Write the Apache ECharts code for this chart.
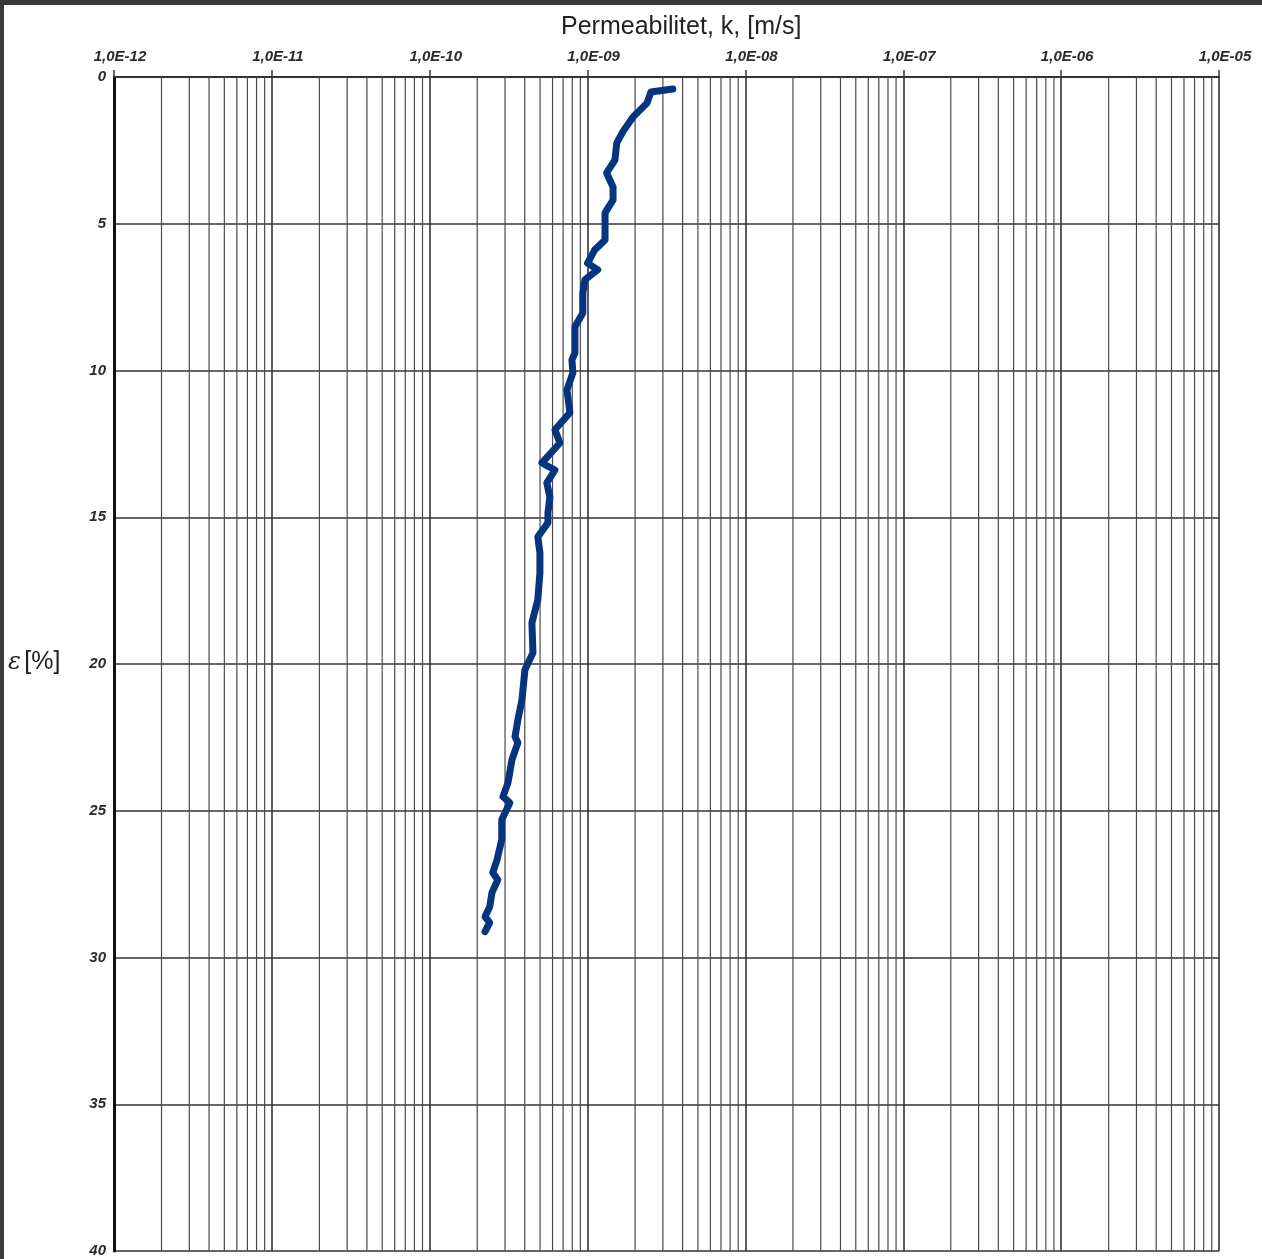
<!DOCTYPE html>
<html>
<head>
<meta charset="utf-8">
<title>Permeabilitet</title>
<script src="https://cdn.jsdelivr.net/npm/echarts@6/dist/echarts.min.js"></script>
<style>
  html, body { margin: 0; padding: 0; background: #fff; }
  #main { width: 1262px; height: 1259px; }
</style>
</head>
<body>
<div id="main"></div>
<script>
// permeabilitet k [m/s] mot töjning eps [%], avläst ur kurvan
const kValues = [3.47e-9, 2.52e-9, 2.38e-9, 1.94e-9, 1.67e-9, 1.53e-9, 1.49e-9, 1.32e-9, 1.45e-9, 1.45e-9,
  1.29e-9, 1.29e-9, 1.11e-9, 1.00e-9, 1.16e-9, 9.62e-10, 9.33e-10, 9.33e-10, 8.32e-10, 8.32e-10,
  7.96e-10, 8.07e-10, 7.40e-10, 7.73e-10, 6.21e-10, 6.68e-10, 5.14e-10, 6.21e-10, 5.52e-10, 5.77e-10,
  5.61e-10, 5.61e-10, 4.84e-10, 4.99e-10, 4.99e-10, 4.84e-10, 4.44e-10, 4.51e-10, 4.01e-10, 3.84e-10,
  3.62e-10, 3.47e-10, 3.62e-10, 3.32e-10, 3.13e-10, 2.91e-10, 3.22e-10, 2.86e-10, 2.86e-10, 2.67e-10,
  2.51e-10, 2.70e-10, 2.48e-10, 2.40e-10, 2.24e-10, 2.40e-10, 2.24e-10]
const epsValues = [0.41, 0.51, 0.89, 1.36, 1.87, 2.25, 2.83, 3.27, 3.75, 4.19,
  4.63, 5.55, 5.89, 6.34, 6.57, 6.91, 7.36, 8.04, 8.51, 9.40,
  9.64, 10.08, 10.66, 11.44, 12.02, 12.47, 13.15, 13.39, 13.83, 14.31,
  14.85, 15.19, 15.67, 16.21, 16.89, 17.81, 18.60, 19.62, 20.20, 21.22,
  21.90, 22.48, 22.68, 23.26, 24.05, 24.52, 24.73, 25.31, 25.99, 26.67,
  27.11, 27.35, 27.79, 28.27, 28.61, 28.81, 29.12]

const xTickLabels = ['1,0E-12', '1,0E-11', '1,0E-10', '1,0E-09', '1,0E-08', '1,0E-07', '1,0E-06', '1,0E-05']
const decades = [1e-12, 1e-11, 1e-10, 1e-9, 1e-8, 1e-7, 1e-6]
const minorSteps = [2, 3, 4, 5, 6, 7, 8, 9]

const lineData = kValues.map((k, i) => [k, epsValues[i]])

// logpapperets fina linjer 2..9 i varje dekad
const minorLines = []
decades.forEach((d) => {
  minorSteps.forEach((m) => {
    minorLines.push([d * m, 0])
  })
})

const myChart = echarts.init(document.getElementById('main'))
const labelFont = 'Liberation Sans, Arial, sans-serif'

const option = {
  backgroundColor: '#fff',
  animation: false,
  title: {
    text: 'Permeabilitet, k, [m/s]',
    left: 556,
    top: 10,
    textStyle: { fontFamily: labelFont, fontSize: 25, fontWeight: 'normal', color: '#222' }
  },
  graphic: [
    { type: 'rect', left: 0, top: 0, shape: { width: 1262, height: 5 }, style: { fill: '#3a3a3a' } },
    { type: 'rect', left: 0, top: 0, shape: { width: 4, height: 1259 }, style: { fill: '#3a3a3a' } },
    {
      type: 'text',
      left: 8,
      top: 650,
      style: {
        text: '{e|ε} {b|[%]}',
        rich: {
          e: { fontFamily: 'DejaVu Serif, serif', fontStyle: 'italic', fontSize: 24, fill: '#222' },
          b: { fontFamily: labelFont, fontSize: 25, fill: '#222' }
        }
      }
    }
  ],
  grid: { left: 114, right: 43, top: 77, bottom: 8 },
  xAxis: {
    type: 'log',
    logBase: 10,
    min: 1e-12,
    max: 1e-5,
    position: 'top',
    axisLine: { show: true, lineStyle: { color: '#333', width: 2 } },
    axisTick: { show: true, length: 7, lineStyle: { color: '#333', width: 1.5 } },
    axisLabel: {
      margin: 13,
      padding: [0, 0, 0, 12],
      fontFamily: labelFont,
      fontStyle: 'italic',
      fontWeight: 'bold',
      fontSize: 15,
      color: '#2a2a2a',
      formatter: function (value, index) {
        return xTickLabels[index]
      }
    },
    splitLine: { show: true, lineStyle: { color: '#333', width: 1.6 } }
  },
  yAxis: {
    type: 'value',
    inverse: true,
    min: 0,
    max: 40,
    interval: 5,
    axisLine: { show: true, lineStyle: { color: '#111', width: 3 } },
    axisTick: { show: false },
    axisLabel: {
      margin: 8,
      fontFamily: labelFont,
      fontStyle: 'italic',
      fontWeight: 'bold',
      fontSize: 15,
      color: '#2a2a2a'
    },
    splitLine: { show: true, lineStyle: { color: '#333', width: 1.5 } }
  },
  series: [
    {
      name: 'rutnät',
      type: 'custom',
      z: 1,
      silent: true,
      data: minorLines,
      encode: { x: 0, y: 1 },
      renderItem: function (params, api) {
        const top = api.coord([api.value(0), 0])
        const bottom = api.coord([api.value(0), 40])
        return {
          type: 'line',
          shape: { x1: top[0], y1: top[1], x2: bottom[0], y2: bottom[1] },
          style: { stroke: '#4a4a4a', lineWidth: 1.2 }
        }
      }
    },
    {
      name: 'k',
      type: 'line',
      z: 3,
      data: lineData,
      showSymbol: false,
      smooth: false,
      lineStyle: { color: '#05357f', width: 7, cap: 'round', join: 'round' }
    }
  ]
}

myChart.setOption(option)
</script>
</body>
</html>
